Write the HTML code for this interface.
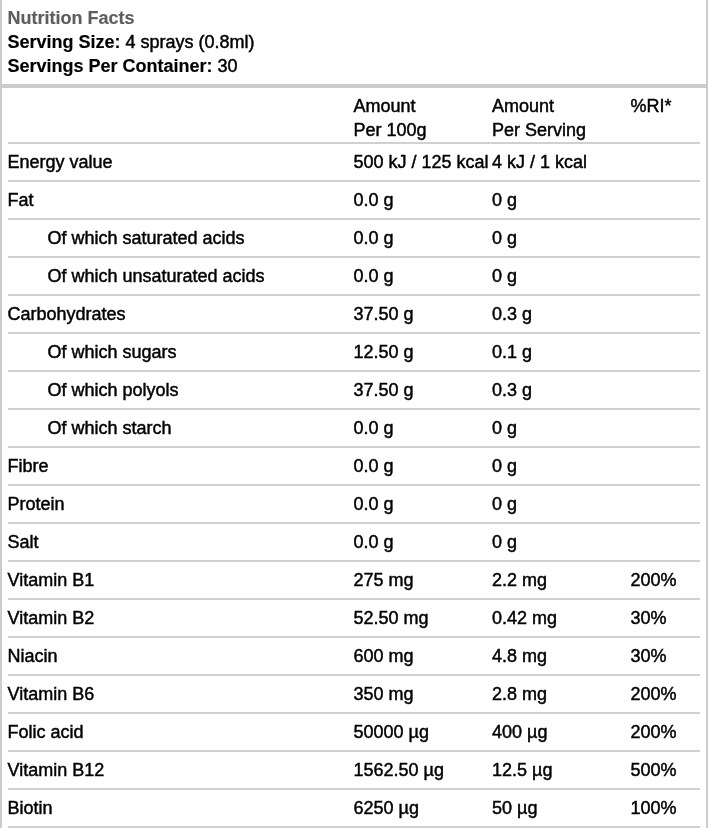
<!DOCTYPE html>
<html lang="en">
<head>
<meta charset="utf-8">
<title>Nutrition Facts</title>
<style>
html,body{margin:0;padding:0;background:#fff;}
body{width:710px;height:828px;overflow:hidden;font-family:"Liberation Sans",sans-serif;font-size:18px;color:#000;}
.wrap{position:absolute;left:0;top:0;width:704px;border-left:2px solid #ccc;border-right:2px solid #ccc;}
.head{height:72px;padding:6px;border-bottom:2px solid #ccc;line-height:24px;}
.head div{white-space:nowrap;}
.head .t{font-weight:bold;color:#5e5e5e;}
.body{border-top:2px solid #ccc;padding:0 6px;}
table{border-collapse:collapse;width:692px;table-layout:fixed;}
td,th{padding:6px 0;line-height:24px;border-bottom:2px solid #d0d0d0;font-weight:normal;text-align:left;vertical-align:top;white-space:nowrap;}
th{padding:6px 0 0;}
td.i{padding-left:40px;}
td span,th span,.head div{position:relative;left:-0.5px;-webkit-text-stroke:0.45px currentColor;}
td:nth-child(3) span,th:nth-child(3) span{left:0;}
.head b,.head .t{-webkit-text-stroke:0.15px currentColor;}
col.c1{width:346px;}col.c2{width:138px;}col.c3{width:139px;}col.c4{width:69px;}
</style>
</head>
<body>
<div class="wrap">
<div class="head">
<div class="t">Nutrition Facts</div>
<div><b>Serving Size:</b> 4 sprays (0.8ml)</div>
<div><b>Servings Per Container:</b> 30</div>
</div>
<div class="body">
<table>
<colgroup><col class="c1"><col class="c2"><col class="c3"><col class="c4"></colgroup>
<tr><th></th><th><span>Amount<br>Per 100g</span></th><th><span>Amount<br>Per Serving</span></th><th><span>%RI*</span></th></tr>
<tr><td><span>Energy value</span></td><td><span>500 kJ / 125 kcal</span></td><td><span>4 kJ / 1 kcal</span></td><td></td></tr>
<tr><td><span>Fat</span></td><td><span>0.0 g</span></td><td><span>0 g</span></td><td></td></tr>
<tr><td class="i"><span>Of which saturated acids</span></td><td><span>0.0 g</span></td><td><span>0 g</span></td><td></td></tr>
<tr><td class="i"><span>Of which unsaturated acids</span></td><td><span>0.0 g</span></td><td><span>0 g</span></td><td></td></tr>
<tr><td><span>Carbohydrates</span></td><td><span>37.50 g</span></td><td><span>0.3 g</span></td><td></td></tr>
<tr><td class="i"><span>Of which sugars</span></td><td><span>12.50 g</span></td><td><span>0.1 g</span></td><td></td></tr>
<tr><td class="i"><span>Of which polyols</span></td><td><span>37.50 g</span></td><td><span>0.3 g</span></td><td></td></tr>
<tr><td class="i"><span>Of which starch</span></td><td><span>0.0 g</span></td><td><span>0 g</span></td><td></td></tr>
<tr><td><span>Fibre</span></td><td><span>0.0 g</span></td><td><span>0 g</span></td><td></td></tr>
<tr><td><span>Protein</span></td><td><span>0.0 g</span></td><td><span>0 g</span></td><td></td></tr>
<tr><td><span>Salt</span></td><td><span>0.0 g</span></td><td><span>0 g</span></td><td></td></tr>
<tr><td><span>Vitamin B1</span></td><td><span>275 mg</span></td><td><span>2.2 mg</span></td><td><span>200%</span></td></tr>
<tr><td><span>Vitamin B2</span></td><td><span>52.50 mg</span></td><td><span>0.42 mg</span></td><td><span>30%</span></td></tr>
<tr><td><span>Niacin</span></td><td><span>600 mg</span></td><td><span>4.8 mg</span></td><td><span>30%</span></td></tr>
<tr><td><span>Vitamin B6</span></td><td><span>350 mg</span></td><td><span>2.8 mg</span></td><td><span>200%</span></td></tr>
<tr><td><span>Folic acid</span></td><td><span>50000 µg</span></td><td><span>400 µg</span></td><td><span>200%</span></td></tr>
<tr><td><span>Vitamin B12</span></td><td><span>1562.50 µg</span></td><td><span>12.5 µg</span></td><td><span>500%</span></td></tr>
<tr><td><span>Biotin</span></td><td><span>6250 µg</span></td><td><span>50 µg</span></td><td><span>100%</span></td></tr>
</table>
</div>
</div>
</body>
</html>
